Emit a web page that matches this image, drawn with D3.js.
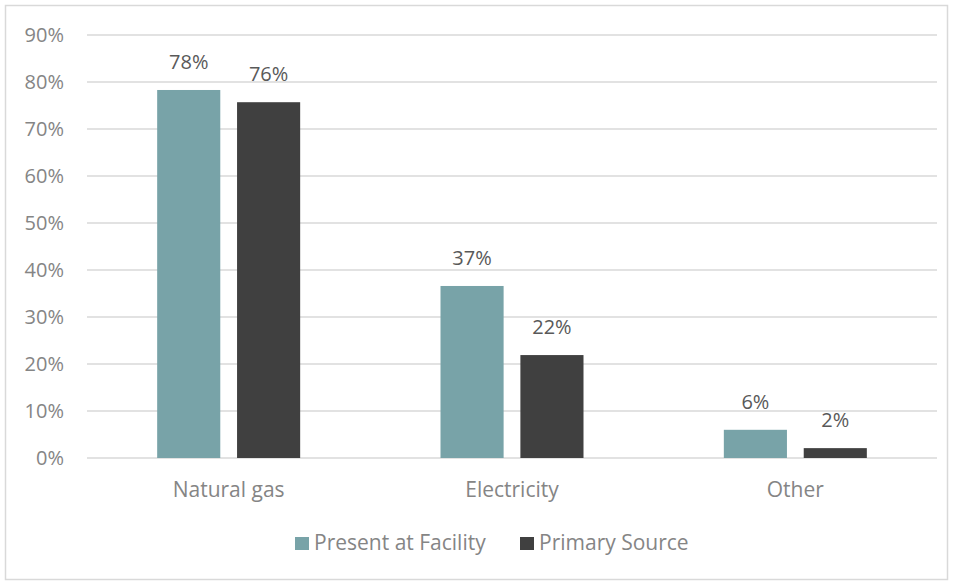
<!DOCTYPE html>
<html>
<head>
<meta charset="utf-8">
<script src="https://cdn.jsdelivr.net/npm/d3@7"></script>
<style>
  body { margin: 0; background: #fff; }
  text { font-family: "Open Sans", "Liberation Sans", sans-serif; }
</style>
</head>
<body>
<svg id="chart" width="954" height="582"></svg>
<script>
const categories = ['Natural gas', 'Electricity', 'Other'];
const seriesNames = ['Present at Facility', 'Primary Source'];
const presentValues = [78.3, 36.6, 6.0];
const primaryValues = [75.7, 21.9, 2.1];
const yTicks = [0, 10, 20, 30, 40, 50, 60, 70, 80, 90];
const colors = ['#78A3A8', '#404040'];

const svg = d3.select('#chart');
const margin = {left: 87, right: 937, top: 35, bottom: 458};

// outer frame
svg.append('rect')
  .attr('x', 5.5).attr('y', 5.5)
  .attr('width', 942).attr('height', 574)
  .attr('fill', 'none').attr('stroke', '#d9d9d9').attr('stroke-width', 1.5);

const x = d3.scaleBand()
  .domain(categories)
  .range([margin.left, margin.right]);

const inner = d3.scaleBand()
  .domain(seriesNames)
  .range([0, 143])
  .paddingInner(0.21);

const y = d3.scaleLinear()
  .domain([0, 90])
  .range([margin.bottom, margin.top]);

// gridlines
svg.append('g')
  .selectAll('line')
  .data(yTicks)
  .join('line')
  .attr('x1', margin.left).attr('x2', margin.right)
  .attr('y1', d => y(d)).attr('y2', d => y(d))
  .attr('stroke', '#d9d9d9').attr('stroke-width', 1.3);

// y tick labels
svg.append('g')
  .selectAll('text')
  .data(yTicks)
  .join('text')
  .attr('x', 64).attr('y', d => y(d))
  .attr('dy', '0.35em')
  .attr('text-anchor', 'end')
  .attr('fill', '#858585')
  .attr('font-size', 20)
  .text(d => d + '%');

const rows = categories.map((c, i) => ({cat: c, vals: [presentValues[i], primaryValues[i]]}));

const groups = svg.append('g')
  .selectAll('g')
  .data(rows)
  .join('g')
  .attr('transform', d => `translate(${x(d.cat) + x.bandwidth() / 2 - 71.5},0)`);

groups.selectAll('rect')
  .data(d => d.vals.map((v, j) => ({name: seriesNames[j], v, j})))
  .join('rect')
  .attr('x', d => inner(d.name))
  .attr('width', inner.bandwidth())
  .attr('y', d => y(d.v))
  .attr('height', d => y(0) - y(d.v))
  .attr('fill', d => colors[d.j]);

groups.selectAll('text')
  .data(d => d.vals.map((v, j) => ({name: seriesNames[j], v, j})))
  .join('text')
  .attr('x', d => inner(d.name) + inner.bandwidth() / 2)
  .attr('y', d => y(d.v) - 21)
  .attr('text-anchor', 'middle')
  .attr('fill', '#595959')
  .attr('font-size', 20)
  .text(d => Math.round(d.v) + '%');

// category labels
svg.append('g')
  .selectAll('text')
  .data(categories)
  .join('text')
  .attr('x', d => x(d) + x.bandwidth() / 2)
  .attr('y', 497)
  .attr('text-anchor', 'middle')
  .attr('fill', '#858585')
  .attr('font-size', 21)
  .text(d => d);

// legend
const legendX = [295, 520];
const legend = svg.append('g')
  .selectAll('g')
  .data(seriesNames)
  .join('g')
  .attr('transform', (d, i) => `translate(${legendX[i]},537)`);
legend.append('rect')
  .attr('width', 14).attr('height', 13)
  .attr('fill', (d, i) => colors[i]);
legend.append('text')
  .attr('x', 19).attr('y', 13)
  .attr('fill', '#858585')
  .attr('font-size', 21)
  .text(d => d);
</script>
</body>
</html>
